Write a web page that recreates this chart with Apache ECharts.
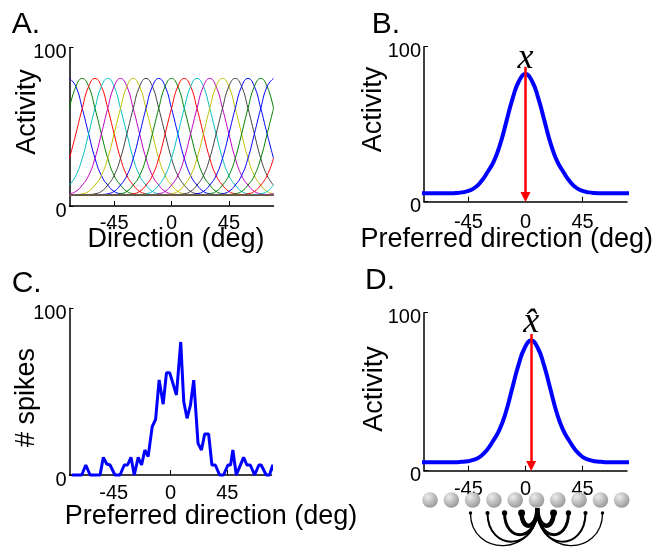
<!DOCTYPE html>
<html>
<head>
<meta charset="utf-8">
<script src="https://cdn.jsdelivr.net/npm/echarts@6/dist/echarts.min.js"></script>
<style>
  html, body { margin: 0; padding: 0; background: #fff; }
  #chart { width: 658px; height: 552px; }
</style>
</head>
<body>
<div id="chart"></div>
<script>
// ---- data ----
// A: one tuning curve profile (activity vs |offset| from preferred direction)
const tuningOffsets = [0, 5, 10, 15, 20, 25, 30, 35, 40, 45, 50];
const tuningProfile = [80.5, 75.4, 61.6, 45.5, 30.1, 19.2, 13.2, 9.2, 7.7, 7.2, 6.8];
const tuningPrefs = [-80, -70, -60, -50, -40, -30, -20, -10, 0, 10, 20, 30, 40, 50, 60, 70,
                     80, 90, 100, 110, 120, 130, 140];
const sampleDirs = [-80, -75, -70, -65, -60, -55, -50, -45, -40, -35, -30, -25, -20, -15, -10, -5,
                    0, 5, 10, 15, 20, 25, 30, 35, 40, 45, 50, 55, 60, 65, 70, 75, 80];

// B, D: population response profile
const popOffsets = [0, 5, 10, 15, 20, 25, 30, 35, 40, 45, 50, 55, 60, 65, 70, 75, 80, 85, 90];
const popProfile = [82.4, 78, 67, 52, 37, 26, 19, 13, 9, 7, 6, 5.6, 5.4, 5.4, 5.4, 5.4, 5.4, 5.4, 5.4];
const trueDir = 0;
const decodedDir = 4.5;
const arrowTopB = 87;
const arrowTopD = 86.5;

// C: noisy spike counts
const spikeDirs = [-78.2, -70.3, -67.1, -63.7, -55.8, -53.2, -50.5, -47.9, -44, -40, -36.6, -34, -31.3,
  -28.7, -25.6, -22.9, -20.3, -17.7, -14.5, -11.8, -9, -5.8, -3.2, -0.6, 4.7, 8.1, 10.5, 13.1, 15.8,
  18.4, 21.8, 24.5, 27.1, 30.2, 32.8, 35.5, 38.9, 42, 45.5, 47.6, 49.4, 52.1, 57.9, 60.5, 63.2, 66.6,
  70, 71.8, 75.8, 78.4, 81, 83.2, 86.3];
const spikeCounts = [0, 0, 6, 0, 0, 10.6, 6.6, 6, 0, 0, 6, 6, 10.6,
  0, 10.6, 6, 15, 11, 29, 33.3, 57, 42.5, 61.3, 61.3, 48, 79.8, 43.9, 34, 41.9,
  56.9, 19, 15, 24.6, 24.6, 6, 6, 0, 0, 6, 6, 15, 0, 10.6, 6, 6, 0,
  6, 6, 0, 0, 6, 0, 10.4];

const xTicks = [-45, 0, 45];

// network sketch under D
const neuronSlots = [0, 1, 2, 3, 4, 5, 6, 7, 8, 9];
const hubSlot = 5.04;
const linkEnds = [1.9, 2.7, 3.5, 4.3, 5.8, 6.5, 7.3, 8.1];
const linkDepth = [46, 42, 35, 26, 26, 35, 42, 46];
const linkWidth = [1.3, 2, 3, 4.5, 4.5, 3, 2, 1.3];

// ---- styles ----
const cB = '#0000ff', cG = '#008000', cR = '#ff0000', cC = '#00bfbf', cM = '#bf00bf', cY = '#bfbf00', cK = '#404040';
const tuningColors = [cB, cG, cR, cC, cM, cY, cK, cB, cG, cR, cC, cM, cY, cK, cB, cG,
                      cB, cG, cR, cC, cM, cY, cK];
const sans = '"Liberation Sans", Arial, sans-serif';
const serif = '"Liberation Serif", "DejaVu Serif", serif';

function tuningAt(off) {
  const i = tuningOffsets.indexOf(Math.abs(off));
  return i >= 0 ? tuningProfile[i] : tuningProfile[tuningProfile.length - 1];
}
function popCurve(center) {
  const pts = [];
  for (let i = popOffsets.length - 1; i > 0; i--) pts.push([center - popOffsets[i], popProfile[i]]);
  for (let i = 0; i < popOffsets.length; i++) pts.push([center + popOffsets[i], popProfile[i]]);
  return pts;
}

function xAxisFor(grid, margin) {
  return {
    type: 'value', gridIndex: grid, min: -80, max: 80,
    axisLine: { onZero: false, lineStyle: { color: '#000', width: 1.5 } },
    axisTick: { inside: true, length: 5, customValues: xTicks, lineStyle: { color: '#000', width: 1 } },
    axisLabel: { customValues: xTicks, fontSize: 20, color: '#000', fontFamily: sans, margin: margin },
    splitLine: { show: false }
  };
}
function yAxisFor(grid) {
  return {
    type: 'value', gridIndex: grid, min: 0, max: 100, interval: 100,
    axisLine: { show: true, onZero: false, lineStyle: { color: '#000', width: 1.5 } },
    axisTick: { show: true, inside: true, length: 4, lineStyle: { color: '#000', width: 1 } },
    axisLabel: { fontSize: 20, color: '#000', fontFamily: sans, margin: 3, verticalAlign: 'top', lineHeight: 10 },
    splitLine: { show: false }
  };
}
function txt(text, x, y, size, align, rot) {
  return {
    type: 'text', x: x, y: y, rotation: rot || 0, silent: true,
    style: { text: text, font: size + 'px ' + sans, fill: '#000', align: align || 'center', verticalAlign: 'middle' }
  };
}
function arrowMark(dir, top, label, dist) {
  return {
    silent: true, symbol: ['none', 'triangle'], symbolSize: 10,
    lineStyle: { color: '#ff0000', width: 2.5, type: 'solid' },
    label: {
      show: true, position: 'start', formatter: label, distance: dist,
      fontFamily: serif, fontStyle: 'italic', fontSize: 36, color: '#000'
    },
    data: [[{ coord: [dir, top] }, { coord: [dir, 3] }]]
  };
}

const series = [];
tuningPrefs.forEach((p, i) => {
  series.push({
    type: 'line', xAxisIndex: 0, yAxisIndex: 0, smooth: true, showSymbol: false, silent: true,
    data: sampleDirs.map(d => [d, tuningAt(d - p)]),
    lineStyle: { color: tuningColors[i], width: 1 }
  });
});
series.push({
  type: 'line', xAxisIndex: 1, yAxisIndex: 1, smooth: true, showSymbol: false, silent: true,
  data: popCurve(trueDir), lineStyle: { color: cB, width: 4 },
  markLine: arrowMark(trueDir, arrowTopB, 'x', -10)
});
series.push({
  type: 'line', xAxisIndex: 2, yAxisIndex: 2, showSymbol: false, silent: true, clip: false,
  data: spikeDirs.map((d, i) => [d, spikeCounts[i]]), lineStyle: { color: cB, width: 3 }
});
series.push({
  type: 'line', xAxisIndex: 3, yAxisIndex: 3, smooth: true, showSymbol: false, silent: true,
  data: popCurve(decodedDir), lineStyle: { color: cB, width: 4 },
  markLine: arrowMark(decodedDir, arrowTopD, 'x\u0302', -7)
});
series.push({
  type: 'custom', xAxisIndex: 4, yAxisIndex: 4, silent: true, encode: { x: 0, y: 1 },
  data: neuronSlots.map(s => [s, 0]),
  renderItem: function (params, api) {
    const p = api.coord([api.value(0), api.value(1)]);
    return {
      type: 'circle', shape: { cx: p[0], cy: p[1], r: 7.8 },
      style: { fill: new echarts.graphic.RadialGradient(0.35, 0.3, 0.8, [
        { offset: 0, color: '#ececec' }, { offset: 1, color: '#909090' }]) }
    };
  }
});
series.push({
  type: 'custom', xAxisIndex: 4, yAxisIndex: 4, silent: true, encode: { x: 0, y: 1 },
  data: linkEnds.map((x, i) => [x, linkDepth[i], linkWidth[i]]),
  renderItem: function (params, api) {
    const xe = api.value(0), d = api.value(1), w = api.value(2);
    const cy = -(8 * d - 24) / 6;
    const a = api.coord([xe, -13]);
    const b = api.coord([hubSlot, -8]);
    const c1 = api.coord([xe, cy]);
    const c2 = api.coord([hubSlot, cy]);
    return {
      type: 'group', children: [
        { type: 'bezierCurve', shape: { x1: a[0], y1: a[1], x2: b[0], y2: b[1], cpx1: c1[0], cpy1: c1[1], cpx2: c2[0], cpy2: c2[1] },
          style: { stroke: '#000', lineWidth: w, fill: null } },
        { type: 'circle', shape: { cx: a[0], cy: a[1], r: 1 + w * 0.55 }, style: { fill: '#000' } }
      ]
    };
  }
});

const chart = echarts.init(document.getElementById('chart'), null, { renderer: 'canvas', width: 658, height: 552 });
chart.setOption({
  animation: false,
  backgroundColor: '#ffffff',
  textStyle: { fontFamily: sans },
  grid: [
    { left: 69.5, top: 47.5, width: 204, height: 158.5, outerBoundsMode: 'none' },
    { left: 424, top: 46.7, width: 203, height: 155, outerBoundsMode: 'none' },
    { left: 69.5, top: 308.3, width: 202, height: 166.7, outerBoundsMode: 'none' },
    { left: 424, top: 312.7, width: 203, height: 158, outerBoundsMode: 'none' },
    { left: 419.35, top: 490, width: 213, height: 60, outerBoundsMode: 'none' }
  ],
  xAxis: [xAxisFor(0, 7), xAxisFor(1, 11), xAxisFor(2, 8), xAxisFor(3, 9),
    { type: 'value', gridIndex: 4, min: -0.5, max: 9.5, show: false }],
  yAxis: [yAxisFor(0), yAxisFor(1), yAxisFor(2), yAxisFor(3),
    { type: 'value', gridIndex: 4, min: -50, max: 10, show: false }],
  graphic: [
    txt('A.', 11.7, 25, 30, 'left'),
    txt('B.', 371.7, 25, 30, 'left'),
    txt('C.', 11.7, 283.3, 30, 'left'),
    txt('D.', 365, 281, 30, 'left'),
    txt('Activity', 28, 112, 27, 'center', Math.PI / 2),
    txt('Activity', 374, 109.5, 27, 'center', Math.PI / 2),
    txt('# spikes', 27, 397.5, 27, 'center', Math.PI / 2),
    txt('Activity', 374.5, 389, 27, 'center', Math.PI / 2),
    txt('Direction (deg)', 176, 240, 27),
    txt('Preferred direction (deg)', 506.7, 240, 27),
    txt('Preferred direction (deg)', 211, 516.7, 27)
  ],
  series: series
});
</script>
</body>
</html>
